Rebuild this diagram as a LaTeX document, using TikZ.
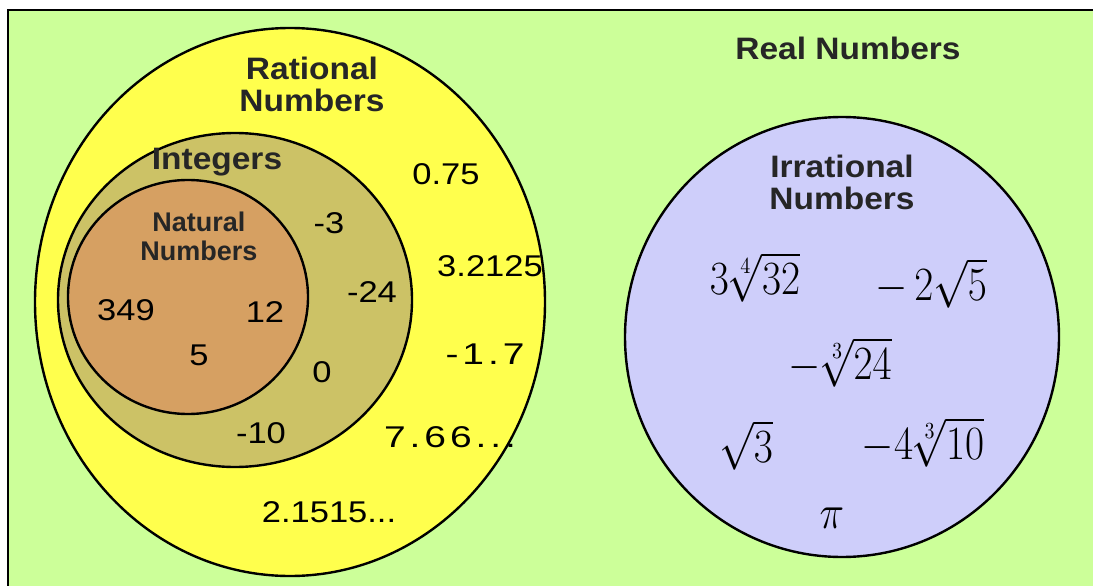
\documentclass[tikz,border=0pt]{standalone}
\usepackage{fontspec}
\setmainfont{Liberation Sans}
\definecolor{bggreen}{RGB}{204,255,153}
\definecolor{ratyellow}{RGB}{255,255,77}
\definecolor{intolive}{RGB}{204,194,102}
\definecolor{nattan}{RGB}{214,160,98}
\definecolor{irrlav}{RGB}{206,206,250}
\newcommand\WS[1]{\scalebox{1.15}[1]{#1}}
\newcommand\WW[1]{\scalebox{1.3}[1]{#1}}
\newcommand\WT[1]{\scalebox{1.08}[1]{#1}}
\newcommand\MX[1]{\scalebox{2.0}[2.3]{$#1$}}
\newcommand\gp{\kern3pt}
\tikzset{
  setline/.style={draw=black, line width=2.4pt},
  num/.style={font=\fontsize{30}{32}\selectfont, inner sep=0pt},
  bigtitle/.style={font=\bfseries\fontsize{31}{32}\selectfont, align=center, inner sep=0pt, text=black!85},
  smalltitle/.style={font=\bfseries\fontsize{27}{29}\selectfont, align=center, inner sep=0pt, text=black!85},
  mathlbl/.style={font=\fontsize{20}{22}\selectfont, inner sep=0pt},
}
\begin{document}
\begin{tikzpicture}[x=1pt,y=-1pt]
\useasboundingbox (0,0) rectangle (1093,586);
% background
\fill[white] (0,0) rectangle (1093,586);
\fill[bggreen] (8,10) rectangle (1093,586);
\draw[line width=2pt] (8,586) -- (8,10) -- (1093,10);
% sets
\path[setline, fill=ratyellow] (290,302) ellipse [x radius=255, y radius=274];
\path[setline, fill=intolive] (235,300) ellipse [x radius=177, y radius=167];
\path[setline, fill=nattan] (188,297) ellipse [x radius=120, y radius=117];
\path[setline, fill=irrlav] (842,337) ellipse [x radius=217, y radius=220];
% titles
\node[bigtitle] (real) at (848,48) {\WT{Real Numbers}};
\node[bigtitle] (rat) at (312,84) {\WT{Rational}\\\WT{Numbers}};
\node[bigtitle] (int) at (217,162) {\WT{Integers}};
\node[smalltitle] (nat) at (199,236) {Natural\\Numbers};
\node[bigtitle] (irr) at (842,182) {\WT{Irrational}\\\WT{Numbers}};
% natural numbers
\node[num] (n349) at (126,310) {\WS{349}};
\node[num] (n12) at (265,312) {\WS{12}};
\node[num] (n5) at (199,355) {\WS{5}};
% integers
\node[num] (im3) at (329,223) {\WS{-3}};
\node[num] (im24) at (372,292) {\WS{-24}};
\node[num] (i0) at (322,372) {\WS{0}};
\node[num] (im10) at (261,433) {\WS{-10}};
% rationals
\node[num] (r075) at (446,174) {\WS{0.75}};
\node[num] (r32) at (490,266) {\WS{3.2125}};
\node[num] (r17) at (485,354) {\WW{-\gp1\gp.\gp7}};
\node[num] (r766) at (450,437) {\WW{7\gp.\gp6\gp6\gp.\gp.\gp.}};
\node[num] (r215) at (329,512) {\WS{2.1515...}};
% irrationals
\node[mathlbl] (q1) at (755,277) {\MX{3\sqrt[4]{32}}};
\node[mathlbl] (q2) at (931,283) {\MX{-\,2\sqrt{5}}};
\node[mathlbl] (q3) at (840,362) {\MX{-\sqrt[3]{24}}};
\node[mathlbl] (q4) at (746,445) {\MX{\sqrt{3}}};
\node[mathlbl] (q5) at (923,442) {\MX{-4\sqrt[3]{10}}};
\node[mathlbl] (q6) at (832,518) {\MX{\pi}};
\end{tikzpicture}
\end{document}
